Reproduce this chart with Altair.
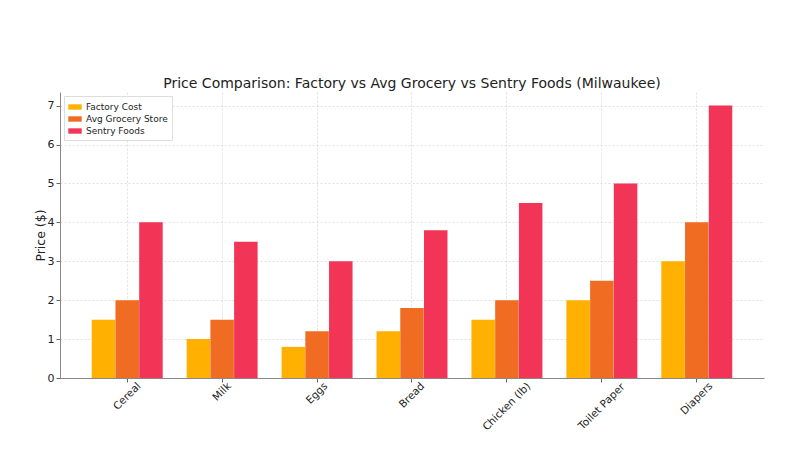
import altair as alt
import pandas as pd

categories = ["Cereal", "Milk", "Eggs", "Bread", "Chicken (lb)", "Toilet Paper", "Diapers"]
series = ["Factory Cost", "Avg Grocery Store", "Sentry Foods"]
factory = [1.5, 1.0, 0.8, 1.2, 1.5, 2.0, 3.0]
avg_grocery = [2.0, 1.5, 1.2, 1.8, 2.0, 2.5, 4.0]
sentry = [4.0, 3.5, 3.0, 3.8, 4.5, 5.0, 7.0]
colors = ["#FFB000", "#EF6C22", "#F23456"]

rows = []
for s, vals in zip(series, [factory, avg_grocery, sentry]):
    for c, v in zip(categories, vals):
        rows.append({"Item": c, "Store": s, "Price": v})
df = pd.DataFrame(rows)

font = "DejaVu Sans"
xfs = 10.5

# approximate DejaVu Sans advance widths (em) to centre rotated labels like matplotlib
glyph = {"C": .698, "e": .615, "r": .411, "a": .613, "l": .278, "M": .863, "i": .278,
         "k": .579, "E": .632, "g": .635, "s": .521, "B": .686, "d": .635, "h": .634,
         "c": .55, "n": .634, " ": .318, "(": .39, ")": .39, "b": .635, "T": .611,
         "o": .612, "t": .392, "P": .603, "p": .635, "D": .77}


def pad_for(label):
    w = sum(glyph.get(ch, 0.6) for ch in label) * xfs
    return round(0.354 * w + 0.354 * 0.8 * xfs - 1, 1)


pad_cond = [{"test": f"datum.value === '{c}'", "value": pad_for(c)} for c in categories]

chart = alt.Chart(df).mark_bar(size=23.5).encode(
    x=alt.X("Item:N", sort=categories,
            scale=alt.Scale(paddingInner=0.25, paddingOuter=0.333),
            axis=alt.Axis(title=None, labelAngle=-45, labelAlign="center", labelBaseline="middle",
                          labelFontSize=xfs, labelColor="#222",
                          labelPadding={"condition": pad_cond, "value": 12},
                          tickSize=4, tickColor="#666", domainColor="#888", bandPosition=0.5,
                          grid=True, gridColor="#d8d8d8", gridDash=[2, 2], gridWidth=0.8)),
    xOffset=alt.XOffset("Store:N", sort=series, scale=alt.Scale(paddingInner=0, paddingOuter=0)),
    y=alt.Y("Price:Q", scale=alt.Scale(domain=[0, 7.35], nice=False),
            axis=alt.Axis(title="Price ($)", values=[0, 1, 2, 3, 4, 5, 6, 7], format="d",
                          labelFontSize=11, labelColor="#222", titleFontSize=12.5,
                          titleFontWeight="normal", titleColor="#222", titlePadding=0,
                          tickSize=4, tickColor="#666", domainColor="#888",
                          grid=True, gridColor="#d8d8d8", gridDash=[2, 2], gridWidth=0.8)),
    color=alt.Color("Store:N", sort=series,
                    scale=alt.Scale(domain=series, range=colors),
                    legend=alt.Legend(title=None, orient="top-left", offset=4,
                                      fillColor="white", strokeColor="#dddddd", padding=4,
                                      labelFontSize=9, labelColor="#222",
                                      symbolType="M-1,-0.4H1V0.4H-1Z", symbolSize=180,
                                      symbolStrokeWidth=0, symbolOpacity=1, rowPadding=0)),
).properties(
    width=704, height=286,
    title=alt.Title("Price Comparison: Factory vs Avg Grocery vs Sentry Foods (Milwaukee)",
                    fontSize=14, fontWeight="normal", color="#222", offset=1, anchor="middle"),
    autosize=alt.AutoSizeParams(type="none"),
    padding={"left": 52, "top": 84, "right": 28, "bottom": 70},
).configure(font=font).configure_view(stroke=None)

chart.save("out.html", embed_options={"renderer": "svg", "actions": False})
